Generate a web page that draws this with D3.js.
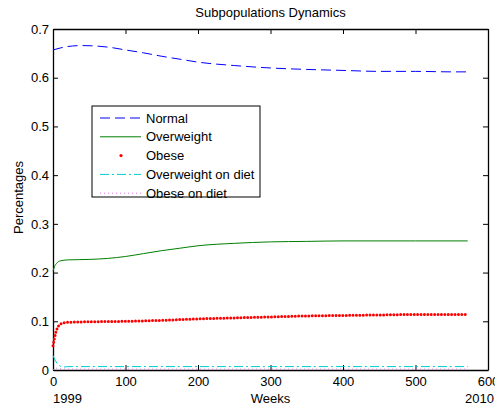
<!DOCTYPE html>
<html>
<head>
<meta charset="utf-8">
<script src="https://cdn.jsdelivr.net/npm/d3@7"></script>
<style>
  body { margin: 0; background: #fff; }
  svg { font-family: "Liberation Sans", Arial, sans-serif; }
</style>
</head>
<body>
<svg id="chart" width="495" height="408"></svg>
<script>
// weeks and values
var normalWeeks = [0, 10, 20, 40, 60, 80, 100, 125, 150, 175, 200, 250, 300, 350, 400, 450, 500, 550, 572];
var normal      = [0.657, 0.661, 0.664, 0.666, 0.665, 0.662, 0.657, 0.651, 0.644, 0.638, 0.632, 0.625, 0.620, 0.617, 0.615, 0.613, 0.613, 0.612, 0.612];

var overWeeks = [0, 2, 5, 10, 20, 50, 75, 100, 125, 150, 175, 200, 250, 300, 350, 400, 500, 572];
var overweight = [0.203, 0.212, 0.219, 0.224, 0.226, 0.227, 0.229, 0.233, 0.239, 0.245, 0.250, 0.255, 0.260, 0.263, 0.264, 0.265, 0.265, 0.265];

var obeseWeeks = [0, 2, 4, 6, 8, 10, 15, 20, 50, 100, 150, 200, 250, 300, 350, 400, 450, 500, 572];
var obese      = [0.050, 0.065, 0.078, 0.086, 0.091, 0.094, 0.097, 0.098, 0.099, 0.100, 0.102, 0.105, 0.107, 0.109, 0.111, 0.112, 0.113, 0.114, 0.114];

var owDietWeeks = [0, 3, 6, 10, 15, 20, 572];
var owDiet      = [0.030, 0.020, 0.013, 0.008, 0.006, 0.007, 0.007];

var obDietWeeks = [0, 3, 8, 20, 572];
var obDiet      = [0.000, 0.004, 0.003, 0.002, 0.002];

var xTicks = [0, 100, 200, 300, 400, 500, 600];
var yTicks = [0, 0.1, 0.2, 0.3, 0.4, 0.5, 0.6, 0.7];

var series = [
  { name: "Normal", weeks: normalWeeks, values: normal, color: "#0000ff", dash: "10,5", width: 1 },
  { name: "Overweight", weeks: overWeeks, values: overweight, color: "#007f00", dash: null, width: 1 },
  { name: "Obese", weeks: obeseWeeks, values: obese, color: "#ff0000", dash: "0,3.4", width: 3, dots: true },
  { name: "Overweight on diet", weeks: owDietWeeks, values: owDiet, color: "#00cccc", dash: "9,3,2,3", width: 1 },
  { name: "Obese on diet", weeks: obDietWeeks, values: obDiet, color: "#e070e0", dash: "1,3", width: 1 }
];

var svg = d3.select("#chart"),
    margin = { top: 29, right: 7, bottom: 38, left: 53 },
    width = +svg.attr("width") - margin.left - margin.right,
    height = +svg.attr("height") - margin.top - margin.bottom;

var x = d3.scaleLinear().domain([0, 600]).range([margin.left, margin.left + width]);
var y = d3.scaleLinear().domain([0, 0.7]).range([margin.top + height, margin.top]);

var fmtY = function(d) { return d === 0 ? "0" : d3.format(".1f")(d); };

// axes, MATLAB style with inward ticks on every side
svg.append("g")
    .attr("transform", "translate(0," + y(0) + ")")
    .call(d3.axisBottom(x).tickValues(xTicks).tickSizeInner(-5).tickSizeOuter(0).tickPadding(7))
    .call(styleAxis);
svg.append("g")
    .attr("transform", "translate(0," + y(0.7) + ")")
    .call(d3.axisTop(x).tickValues(xTicks).tickSizeInner(-5).tickSizeOuter(0).tickFormat(""))
    .call(styleAxis);
svg.append("g")
    .attr("transform", "translate(" + x(0) + ",0)")
    .call(d3.axisLeft(y).tickValues(yTicks).tickSizeInner(-5).tickSizeOuter(0).tickPadding(4).tickFormat(fmtY))
    .call(styleAxis);
svg.append("g")
    .attr("transform", "translate(" + x(600) + ",0)")
    .call(d3.axisRight(y).tickValues(yTicks).tickSizeInner(-5).tickSizeOuter(0).tickFormat(""))
    .call(styleAxis);

function styleAxis(g) {
  g.select(".domain").attr("stroke", "#000").attr("stroke-width", 1.3);
  g.selectAll(".tick line").attr("stroke", "#000").attr("stroke-width", 1);
  g.selectAll(".tick text").attr("fill", "#000").style("font-size", "13px")
    .style("font-family", "Liberation Sans, Arial, sans-serif");
}

var line = d3.line()
    .curve(d3.curveMonotoneX)
    .x(function(d) { return x(d[0]); })
    .y(function(d) { return y(d[1]); });

svg.append("g").selectAll("path")
  .data(series)
  .join("path")
    .attr("fill", "none")
    .attr("stroke", function(d) { return d.color; })
    .attr("stroke-width", function(d) { return d.width; })
    .attr("stroke-dasharray", function(d) { return d.dash; })
    .attr("stroke-linecap", function(d) { return d.dots ? "round" : "butt"; })
    .attr("d", function(d) { return line(d3.zip(d.weeks, d.values)); });

// text
svg.append("text")
    .attr("x", (x(0) + x(600)) / 2)
    .attr("y", 17)
    .attr("text-anchor", "middle")
    .style("font-size", "13px")
    .text("Subpopulations Dynamics");

svg.append("text")
    .attr("x", (x(0) + x(600)) / 2)
    .attr("y", 403)
    .attr("text-anchor", "middle")
    .style("font-size", "13px")
    .text("Weeks");

svg.append("text")
    .attr("x", x(0))
    .attr("y", 403)
    .style("font-size", "13px")
    .text("1999");

svg.append("text")
    .attr("x", 494)
    .attr("y", 403)
    .attr("text-anchor", "end")
    .style("font-size", "13px")
    .text("2010");

svg.append("text")
    .attr("transform", "translate(23," + (y(0.35) - 2) + ") rotate(-90)")
    .attr("text-anchor", "middle")
    .style("font-size", "13px")
    .text("Percentages");

// legend
var legend = svg.append("g").attr("transform", "translate(92,106)");
legend.append("rect")
    .attr("width", 168)
    .attr("height", 91)
    .attr("fill", "#fff")
    .attr("stroke", "#000")
    .attr("stroke-width", 1);

var rows = legend.selectAll("g.row")
  .data(series)
  .join("g")
    .attr("class", "row")
    .attr("transform", function(d, i) { return "translate(0," + (12 + i * 18.8) + ")"; });

rows.filter(function(d) { return !d.dots; }).append("line")
    .attr("x1", 8).attr("x2", 49)
    .attr("stroke", function(d) { return d.color; })
    .attr("stroke-width", 1)
    .attr("stroke-dasharray", function(d) { return d.dash; });

rows.filter(function(d) { return d.dots; }).append("circle")
    .attr("cx", 29).attr("r", 1.6)
    .attr("fill", function(d) { return d.color; });

rows.append("text")
    .attr("x", 54)
    .attr("dy", "0.35em")
    .style("font-size", "13px")
    .text(function(d) { return d.name; });
</script>
</body>
</html>
